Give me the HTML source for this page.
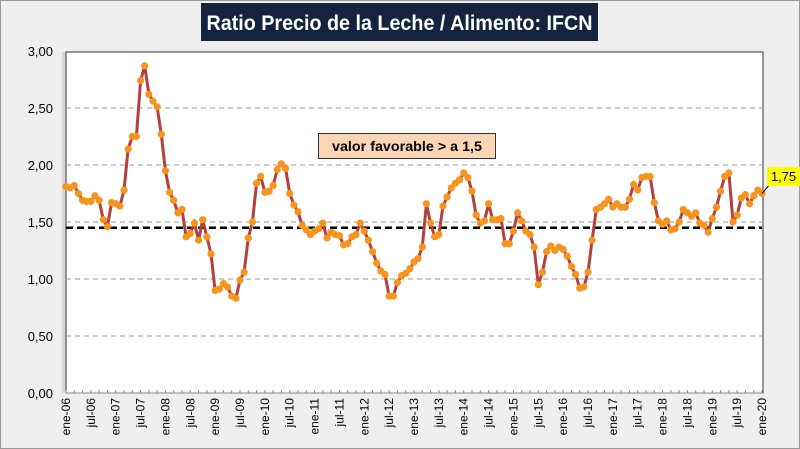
<!DOCTYPE html>
<html><head><meta charset="utf-8"><style>
html,body{margin:0;padding:0;}
body{width:800px;height:449px;background:#efefef;font-family:"Liberation Sans",sans-serif;overflow:hidden;position:relative;}
svg{position:absolute;left:0;top:0;}
</style></head><body>
<svg width="800" height="449">
<rect x="0.5" y="0.5" width="799" height="448" fill="#efefef" stroke="#999"/>
<rect x="62" y="52" width="701" height="341" fill="#d8d8d8"/>
<rect x="66" y="52" width="697" height="341" fill="#fff" stroke="#333" stroke-width="1"/>
<g id="grid"></g><g id="yticks"></g><g id="xticks"></g>
<line id="refline" stroke="#000" stroke-width="2.5" stroke-dasharray="7,4"/>
<path id="line" fill="none" stroke="#b0413e" stroke-width="3"/>
<g id="pts"></g>
<rect x="201" y="3" width="397" height="38" fill="#14243e"/>
<text x="399.5" y="30" fill="#fff" font-size="21" font-weight="bold" text-anchor="middle" textLength="386" lengthAdjust="spacingAndGlyphs">Ratio Precio de la Leche / Alimento: IFCN</text>
<rect x="318.5" y="133.5" width="177" height="25" fill="#fcd5b4" stroke="#333"/>
<text x="407" y="151" font-size="14" font-weight="bold" text-anchor="middle" textLength="150" lengthAdjust="spacingAndGlyphs" fill="#000">valor favorable &gt; a 1,5</text>
<line id="calloutline" stroke="#000" stroke-width="1"/>
<rect x="767" y="167" width="33" height="19" fill="#ffff00"/>
<text x="783.5" y="181" font-size="13" text-anchor="middle" fill="#000">1,75</text>
</svg>
<script>
const values=[1.81,1.80,1.82,1.75,1.69,1.68,1.68,1.73,1.69,1.52,1.46,1.67,1.66,1.64,1.78,2.14,2.25,2.25,2.74,2.87,2.62,2.56,2.51,2.27,1.95,1.76,1.69,1.58,1.61,1.37,1.40,1.49,1.34,1.52,1.37,1.22,0.90,0.91,0.96,0.93,0.85,0.83,0.99,1.06,1.36,1.50,1.84,1.90,1.76,1.77,1.82,1.96,2.01,1.97,1.75,1.65,1.59,1.47,
1.43,1.39,1.42,1.44,1.49,1.36,1.41,1.39,1.38,1.30,1.31,1.37,1.39,1.49,1.42,1.34,1.24,1.14,1.07,1.04,0.85,0.85,0.97,1.03,1.05,1.09,1.15,1.18,1.28,1.66,1.49,1.37,1.39,1.64,1.72,1.80,1.84,1.87,1.93,1.89,1.77,1.56,1.49,1.51,1.66,1.52,1.52,1.53,1.31,1.31,1.42,1.58,1.51,1.42,1.39,1.28,0.95,
1.06,1.24,1.29,1.25,1.28,1.26,1.20,1.11,1.04,0.92,0.93,1.06,1.34,1.61,1.63,1.66,1.70,1.63,1.66,1.63,1.63,1.70,1.83,1.78,1.89,1.90,1.90,1.67,1.51,1.48,1.51,1.43,1.44,1.50,1.61,1.58,1.55,1.58,1.49,1.47,1.41,1.53,1.63,1.77,1.90,1.93,1.50,1.56,1.71,1.74,1.66,1.73,1.78,1.75];
const yTicks=[0,0.5,1,1.5,2,2.5,3];
const yTickLabels=["0,00","0,50","1,00","1,50","2,00","2,50","3,00"];
const threshold=[1.45];
const xLabelYears=["06","07","08","09","10","11","12","13","14","15","16","17","18","19","20"];
const X0=66,X1=762,Y0=393,Y1=51;
const NS="http://www.w3.org/2000/svg";
function xs(i){return X0+i*(X1-X0)/(values.length-1);}
function ys(v){return Y0-(v/3)*(Y0-Y1);}
function mk(t,a,p){const e=document.createElementNS(NS,t);for(const k in a)e.setAttribute(k,a[k]);p.appendChild(e);return e;}
const grid=document.getElementById('grid'),yt=document.getElementById('yticks'),xt=document.getElementById('xticks');
yTicks.forEach((v,i)=>{
  if(v>0&&v<3){const g=mk('line',{x1:X0,x2:763,y1:ys(v),y2:ys(v),stroke:'#999','stroke-dasharray':'5,4'},grid);
  
  }
  const t=mk('text',{x:53,y:ys(v)+5,'font-size':13,'text-anchor':'end',fill:'#000'},yt);
  t.textContent=yTickLabels[i];
  
  
});
const ax=mk('line',{x1:X0,x2:763,y1:Y0,y2:Y0,stroke:'#888'},xt);


for(let i=0;i<values.length;i+=2){
  const tk=mk('line',{x1:xs(i),x2:xs(i),y1:Y0-3,y2:Y0,stroke:'#888'},xt);
  
  
}
for(let i=0;i<values.length;i+=6){
  const yr=xLabelYears[Math.floor(i/12)];
  const lab=(i%12===0?'ene-':'jul-')+yr;
  const x=xs(i)+4;
  const t=mk('text',{x:x,y:398,'font-size':12,'text-anchor':'end',fill:'#000',transform:'rotate(-90 '+x+' 398)'},xt);
  t.textContent=lab;
  
  
}
const rl=document.getElementById('refline');
rl.setAttribute('x1',X0);rl.setAttribute('x2',X1);rl.setAttribute('y1',ys(threshold[0]));rl.setAttribute('y2',ys(threshold[0]));
document.getElementById('line').setAttribute('d',values.map((v,i)=>(i?'L':'M')+xs(i).toFixed(1)+' '+ys(v).toFixed(1)).join(''));
const pts=document.getElementById('pts');
values.forEach((v,i)=>{
  const c=mk('circle',{cx:xs(i),cy:ys(v),r:3.6,fill:'#f7941d'},pts);
  
  
});
const last=values.length-1,cl=document.getElementById('calloutline');
cl.setAttribute('x1',xs(last));cl.setAttribute('y1',ys(values[last]));cl.setAttribute('x2',770);cl.setAttribute('y2',184);
</script>
</body></html>
